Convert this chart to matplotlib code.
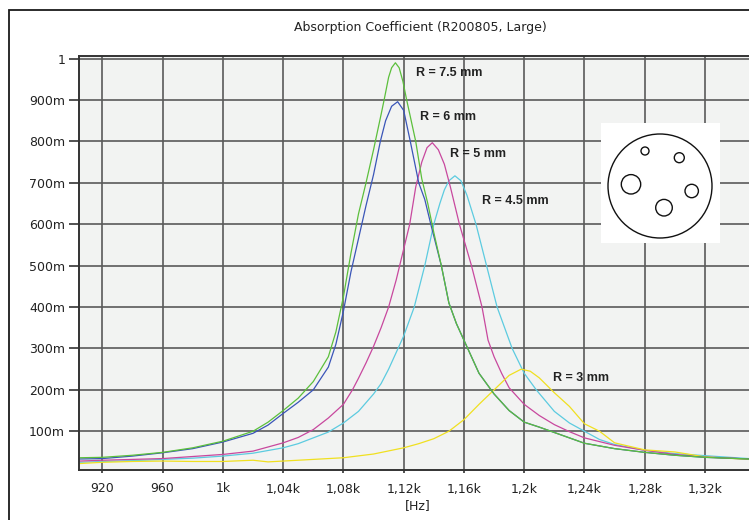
import matplotlib
matplotlib.use("Agg")
import matplotlib.pyplot as plt
from matplotlib.patches import Circle, Rectangle

# absorption data (frequency in Hz, coefficient)
f_75 = [905, 920, 940, 960, 980, 1000, 1020, 1030, 1040, 1050, 1060, 1070, 1075, 1080, 1085,
        1090, 1095, 1100, 1105, 1107, 1110, 1112, 1114.5, 1117, 1119.5, 1122, 1125, 1128, 1132,
        1136, 1140, 1145, 1150, 1155, 1160, 1170, 1180, 1190, 1200, 1210, 1220, 1240, 1260, 1280,
        1300, 1320, 1349]
a_75 = [0.036, 0.037, 0.042, 0.049, 0.060, 0.076, 0.100, 0.122, 0.150, 0.180, 0.220, 0.280, 0.340,
        0.425, 0.530, 0.625, 0.700, 0.780, 0.865, 0.900, 0.955, 0.978, 0.990, 0.978, 0.945, 0.900,
        0.850, 0.800, 0.710, 0.650, 0.580, 0.500, 0.410, 0.360, 0.320, 0.240, 0.190, 0.150, 0.122,
        0.110, 0.097, 0.071, 0.058, 0.049, 0.042, 0.037, 0.033]

f_6 = [905, 920, 940, 960, 980, 1000, 1020, 1030, 1040, 1050, 1060, 1070, 1075, 1080, 1085,
       1090, 1095, 1100, 1104.5, 1108, 1112, 1116, 1120, 1124.4, 1130, 1134, 1138, 1145, 1150,
       1155, 1160, 1170, 1180, 1190, 1200, 1210, 1220, 1240, 1260, 1280, 1300, 1320, 1349]
a_6 = [0.033, 0.034, 0.040, 0.048, 0.058, 0.074, 0.095, 0.115, 0.143, 0.170, 0.200, 0.255, 0.310,
       0.390, 0.485, 0.565, 0.645, 0.720, 0.800, 0.850, 0.885, 0.896, 0.875, 0.800, 0.700, 0.660,
       0.600, 0.500, 0.410, 0.360, 0.320, 0.240, 0.190, 0.150, 0.122, 0.110, 0.097, 0.071, 0.058,
       0.049, 0.042, 0.037, 0.033]

f_5 = [905, 920, 940, 960, 980, 1000, 1020, 1040, 1050, 1060, 1070, 1080, 1086, 1090, 1095, 1100,
       1105, 1110, 1115, 1120, 1124, 1128, 1132, 1135.5, 1139, 1143, 1147, 1151, 1157, 1165, 1172,
       1176, 1180, 1185, 1190, 1200, 1210, 1220, 1230, 1240, 1260, 1280, 1300, 1320, 1349]
a_5 = [0.028, 0.030, 0.032, 0.034, 0.039, 0.044, 0.052, 0.072, 0.085, 0.104, 0.132, 0.165, 0.200,
       0.228, 0.265, 0.305, 0.350, 0.400, 0.465, 0.540, 0.600, 0.690, 0.750, 0.785, 0.797, 0.780,
       0.745, 0.690, 0.600, 0.500, 0.400, 0.320, 0.280, 0.240, 0.205, 0.165, 0.138, 0.116, 0.099,
       0.084, 0.066, 0.054, 0.044, 0.038, 0.033]

f_45 = [905, 920, 940, 960, 980, 1000, 1020, 1040, 1050, 1060, 1070, 1080, 1090, 1100, 1105, 1110,
        1115, 1120, 1127, 1134, 1140, 1144, 1147, 1150, 1154, 1158, 1162, 1168, 1175, 1182, 1192,
        1200, 1208, 1220, 1230, 1240, 1250, 1260, 1280, 1300, 1320, 1349]
a_45 = [0.025, 0.027, 0.029, 0.032, 0.035, 0.040, 0.047, 0.060, 0.070, 0.084, 0.098, 0.120, 0.148,
        0.190, 0.215, 0.250, 0.290, 0.330, 0.400, 0.500, 0.600, 0.650, 0.683, 0.705, 0.717, 0.705,
        0.670, 0.600, 0.500, 0.400, 0.300, 0.240, 0.200, 0.148, 0.120, 0.100, 0.080, 0.068, 0.054,
        0.046, 0.041, 0.034]

f_3 = [905, 920, 940, 960, 980, 1000, 1020, 1030, 1040, 1060, 1080, 1100, 1120, 1130, 1140, 1150,
       1160, 1170, 1180, 1190, 1198, 1204, 1210, 1220, 1230, 1240, 1250, 1260, 1280, 1300, 1320, 1349]
a_3 = [0.022, 0.025, 0.027, 0.028, 0.027, 0.027, 0.030, 0.026, 0.028, 0.032, 0.036, 0.045, 0.060,
       0.070, 0.082, 0.100, 0.128, 0.165, 0.200, 0.235, 0.250, 0.245, 0.229, 0.193, 0.160, 0.118,
       0.100, 0.072, 0.055, 0.050, 0.038, 0.032]

x_ticks = [920, 960, 1000, 1040, 1080, 1120, 1160, 1200, 1240, 1280, 1320]
x_labels = ['920', '960', '1k', '1,04k', '1,08k', '1,12k', '1,16k', '1,2k', '1,24k', '1,28k', '1,32k']
y_ticks = [0.1, 0.2, 0.3, 0.4, 0.5, 0.6, 0.7, 0.8, 0.9, 1.0]
y_labels = ['100m', '200m', '300m', '400m', '500m', '600m', '700m', '800m', '900m', '1']

# sample sketch: outer circle and holes, in inset pixel coords (x, y, r)
holes = [(645, 151, 4), (679.3, 157.7, 5), (631, 184.3, 9.7), (691.7, 191, 6.7), (664, 207.7, 8.3)]
plate = (660, 186, 52)

fig = plt.figure(figsize=(7.49, 5.20), dpi=100)
fig.patches.append(Rectangle((9.3 / 749, -0.1), 1.2, (510 / 520) + 0.1, transform=fig.transFigure,
                             fill=False, edgecolor='#1a1a1a', linewidth=1.3))
fig.text(420 / 749, 1 - 28 / 520, 'Absorption Coefficient (R200805, Large)', ha='center', va='center',
         fontsize=9, color='#222222')

ax = fig.add_axes([79 / 749, 50 / 520, 1 - 79 / 749, 414 / 520])
ax.set_facecolor('#f2f3f2')

series = [(f_45, a_45, '#5ccbe0'), (f_5, a_5, '#c8489e'), (f_3, a_3, '#f0e020'),
          (f_6, a_6, '#3a55b8'), (f_75, a_75, '#5cbf3c')]
for f, a, c in series:
    ax.plot(f, a, color=c, linewidth=0.9)

ax.set_xlim(904.5, 1349.2)
ax.set_ylim(0.0064, 1.0064)
ax.set_xticks(x_ticks)
ax.set_xticklabels(x_labels)
ax.set_yticks(y_ticks)
ax.set_yticklabels(y_labels)
ax.tick_params(axis='y', direction='out', length=7, width=1.2, color='#333333', labelsize=9,
               labelcolor='#222222', pad=3)
ax.tick_params(axis='x', direction='out', length=2, width=1.2, color='#333333', labelsize=9,
               labelcolor='#222222', pad=7)
ax.grid(True, color='#5a5a5a', linewidth=1.2)
ax.set_axisbelow(True)
for s in ['left', 'bottom', 'top']:
    ax.spines[s].set_color('#333333')
    ax.spines[s].set_linewidth(1.4)
ax.spines['right'].set_visible(False)
fig.text(418 / 749, 1 - 506 / 520, '[Hz]', ha='center', va='center', fontsize=9, color='#222222')

lab_font = dict(family=['Liberation Sans', 'DejaVu Sans'], fontsize=9, fontweight='bold',
                color='#222222', va='center', ha='left')
ax.text(1128, 0.965, 'R = 7.5 mm', **lab_font)
ax.text(1131, 0.858, 'R = 6 mm', **lab_font)
ax.text(1151, 0.770, 'R = 5 mm', **lab_font)
ax.text(1172, 0.655, 'R = 4.5 mm', **lab_font)
ax.text(1219, 0.229, 'R = 3 mm', **lab_font)

ins = fig.add_axes([601 / 749, 1 - 243 / 520, 119 / 749, 120 / 520])
ins.set_facecolor('white')
ins.set_xlim(601, 720)
ins.set_ylim(243, 123)
ins.set_xticks([])
ins.set_yticks([])
for s in ins.spines.values():
    s.set_visible(False)
ins.add_patch(Circle(plate[:2], plate[2], fill=False, edgecolor='#111111', linewidth=1.0))
for hx, hy, hr in holes:
    ins.add_patch(Circle((hx, hy), hr, fill=False, edgecolor='#111111', linewidth=1.0))

fig.savefig('out.png', dpi=100)
